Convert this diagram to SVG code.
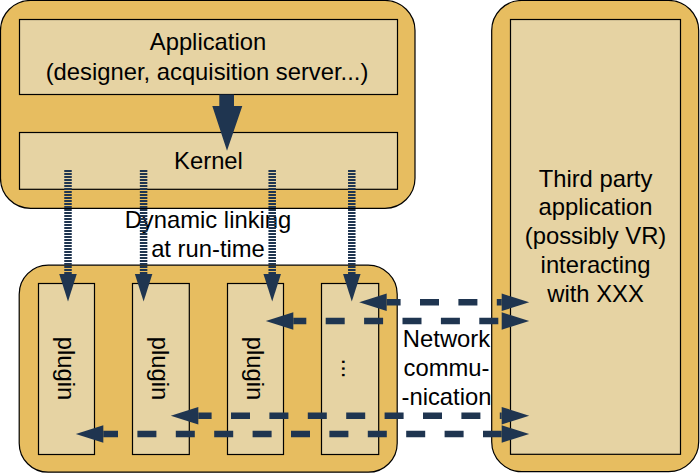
<svg xmlns="http://www.w3.org/2000/svg" width="700" height="473" viewBox="0 0 700 473">
<style>
.outer{fill:#E7BD60;stroke:#000;stroke-width:1.2}
.inner{fill:#E6D3A3;stroke:#000;stroke-width:1.2}
text{font-family:"Liberation Sans",Arial,Helvetica,sans-serif;font-size:23.8px;fill:#000;text-anchor:middle}
.dot{fill:none;stroke:#1F3550;stroke-width:7.5;stroke-dasharray:2 1;marker-end:url(#head)}
.dash{fill:none;stroke:#1F3550;stroke-width:6.5;stroke-dasharray:19 19.4;marker-start:url(#head);marker-end:url(#head)}
</style>
<defs>
<marker id="head" markerUnits="userSpaceOnUse" markerWidth="28" markerHeight="18" refX="0" refY="8.75" orient="auto-start-reverse" overflow="visible">
<path d="M0,0 L27.5,8.75 L0,17.5 Z" fill="#1F3550"/>
</marker>
</defs>
<rect width="700" height="473" fill="#fff"/>

<g id="core-container">
<rect class="outer" x="0.5" y="0.5" width="414.5" height="207.8" rx="30" ry="30"/>
</g>
<g id="application">
<rect class="inner" x="19.5" y="19.5" width="378" height="75"/>
<text x="208" y="50">Application</text>
<text x="207" y="80">(designer, acquisition server...)</text>
</g>
<g id="kernel">
<rect class="inner" x="19.5" y="132.5" width="378" height="56.8"/>
<text x="208.5" y="168.5">Kernel</text>
</g>

<g id="plugin-container">
<rect class="outer" x="19.2" y="265.2" width="378" height="207" rx="29" ry="29"/>
</g>
<g id="plugin1">
<rect class="inner" x="38.5" y="283.5" width="56" height="171"/>
<text transform="translate(58,368.5) rotate(90)">plugin</text>
</g>
<g id="plugin2">
<rect class="inner" x="132.5" y="283.5" width="56.8" height="171"/>
<text transform="translate(152.3,368.5) rotate(90)">plugin</text>
</g>
<g id="plugin3">
<rect class="inner" x="227.5" y="283.5" width="56" height="171"/>
<text transform="translate(246.8,368.5) rotate(90)">plugin</text>
</g>
<g id="plugin4">
<rect class="inner" x="321.5" y="283.5" width="57.2" height="171"/>
<text transform="translate(342,368.5) rotate(90)">...</text>
</g>

<g id="third-party">
<rect class="outer" x="491.7" y="0.5" width="207" height="471.2" rx="30" ry="30"/>
<rect class="inner" x="510.5" y="19.5" width="170" height="434.8"/>
<text x="595.5" y="186.7">Third party</text>
<text x="595.5" y="215.4">application</text>
<text x="595.5" y="244.2">(possibly VR)</text>
<text x="595.5" y="272.9">interacting</text>
<text x="595.5" y="301.7">with XXX</text>
</g>

<g id="labels">
<text x="208" y="227.7">Dynamic linking</text>
<text x="208" y="256.7">at run-time</text>
<text x="446.5" y="346.7">Network</text>
<text x="446.5" y="375.7">commu-</text>
<text x="446.5" y="405">-nication</text>
</g>

<g id="connectors">
<polygon points="219.3,94.5 234,94.5 234,106 242.3,106 227,150.7 212.3,106 219.3,106" fill="#1F3550"/>
<path class="dot" d="M68,170 V274"/>
<path class="dot" d="M143.6,170 V274"/>
<path class="dot" d="M272.2,170 V274"/>
<path class="dot" d="M351.8,170 V274"/>
<path class="dash" d="M386.7,302.3 H501.7" stroke-dashoffset="5.1"/>
<path class="dash" d="M293.3,321 H501.7" stroke-dashoffset="6"/>
<path class="dash" d="M198.3,415.7 H501.7" stroke-dashoffset="5.7"/>
<path class="dash" d="M103.3,434 H501.7" stroke-dashoffset="4.3"/>
</g>
</svg>
